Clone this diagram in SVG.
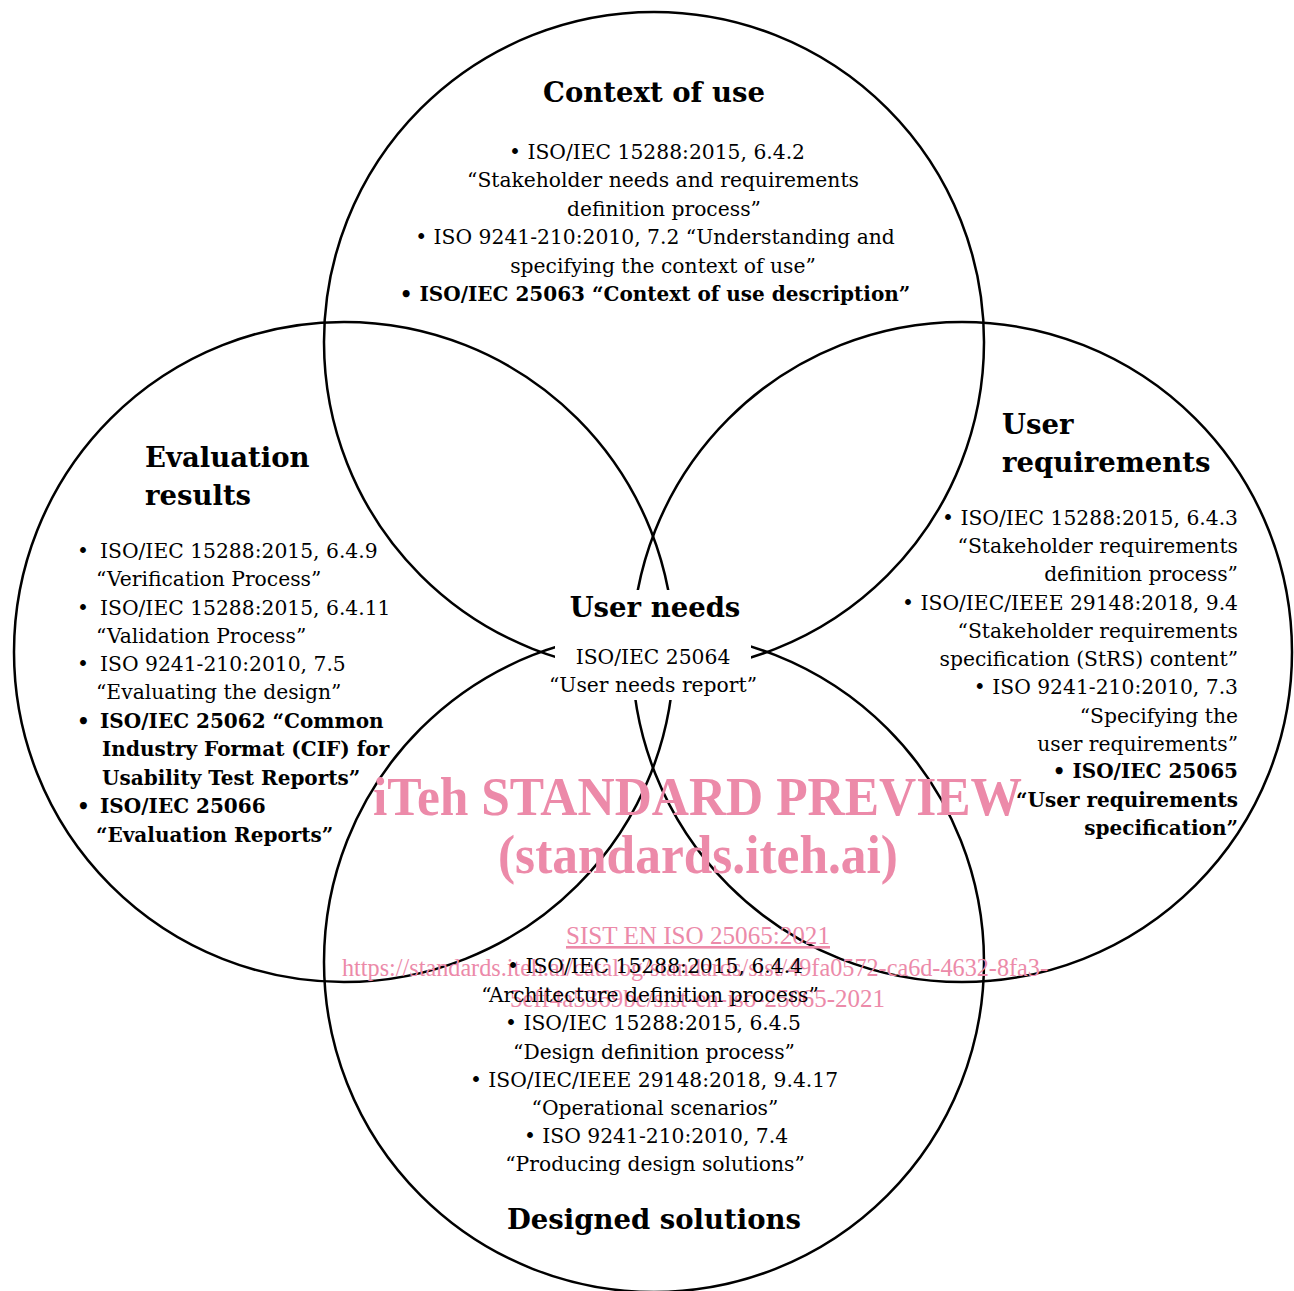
<svg xmlns="http://www.w3.org/2000/svg" width="1294" height="1291" viewBox="0 0 1294 1291">
<style>
.c{fill:none;stroke:#000;stroke-width:2.5}
.h{font-family:"DejaVu Serif","Liberation Serif",serif;font-weight:bold;font-size:27.5px;fill:#000}
.t{font-family:"DejaVu Serif","Liberation Serif",serif;font-size:20.3px;fill:#000}
.b{font-family:"DejaVu Serif","Liberation Serif",serif;font-size:20px;font-weight:bold;fill:#000}
.m{text-anchor:middle}
.e{text-anchor:end}
.w{font-family:"Liberation Serif","Times New Roman",serif;fill:#ec8aa9}
</style>
<rect width="1294" height="1291" fill="#fff"/>
<g id="connectors">
<circle class="c" cx="654" cy="342" r="330"/>
<circle class="c" cx="344" cy="652" r="330"/>
<circle class="c" cx="962" cy="652" r="330"/>
<circle class="c" cx="654" cy="962" r="330"/>
</g>
<g id="watermark">
<text class="w" x="373" y="815" font-size="54" font-weight="bold" textLength="649" lengthAdjust="spacingAndGlyphs">iTeh STANDARD PREVIEW</text>
<text class="w" x="498" y="873" font-size="54" font-weight="bold" textLength="400" lengthAdjust="spacingAndGlyphs">(standards.iteh.ai)</text>
<text class="w" x="566" y="944" font-size="26" text-decoration="underline" textLength="264" lengthAdjust="spacingAndGlyphs">SIST EN ISO 25065:2021</text>
<text class="w" x="342" y="976" font-size="26" textLength="706" lengthAdjust="spacingAndGlyphs">https://standards.iteh.ai/catalog/standards/sist/49fa0572-ca6d-4632-8fa3-</text>
<text class="w" x="510" y="1007" font-size="26" textLength="375" lengthAdjust="spacingAndGlyphs">5eff4a5369bc/sist-en-iso-25065-2021</text>
</g>
<g id="context-of-use">
<text class="h m" x="654" y="102">Context of use</text>
<text class="t m" x="657" y="159">• ISO/IEC 15288:2015, 6.4.2</text>
<text class="t m" x="663" y="187">“Stakeholder needs and requirements</text>
<text class="t m" x="664" y="216">definition process”</text>
<text class="t m" x="655" y="244">• ISO 9241-210:2010, 7.2 “Understanding and</text>
<text class="t m" x="663" y="273">specifying the context of use”</text>
<text class="b m" x="655" y="301">• ISO/IEC 25063 “Context of use description”</text>
</g>
<g id="evaluation-results">
<text class="h" x="145" y="467">Evaluation</text>
<text class="h" x="145" y="505">results</text>
<text class="t" x="77" y="558">•</text>
<text class="t" x="100" y="558">ISO/IEC 15288:2015, 6.4.9</text>
<text class="t" x="96" y="586">“Verification Process”</text>
<text class="t" x="77" y="615">•</text>
<text class="t" x="100" y="615">ISO/IEC 15288:2015, 6.4.11</text>
<text class="t" x="96" y="643">“Validation Process”</text>
<text class="t" x="77" y="671">•</text>
<text class="t" x="100" y="671">ISO 9241-210:2010, 7.5</text>
<text class="t" x="96" y="699">“Evaluating the design”</text>
<text class="b" x="77" y="728">•</text>
<text class="b" x="100" y="728">ISO/IEC 25062 “Common</text>
<text class="b" x="102" y="756">Industry Format (CIF) for</text>
<text class="b" x="102" y="785">Usability Test Reports”</text>
<text class="b" x="77" y="813">•</text>
<text class="b" x="100" y="813">ISO/IEC 25066</text>
<text class="b" x="96" y="842">“Evaluation Reports”</text>
</g>
<g id="user-requirements">
<text class="h" x="1002" y="434">User</text>
<text class="h" x="1002" y="472">requirements</text>
<text class="t e" x="1238" y="525">• ISO/IEC 15288:2015, 6.4.3</text>
<text class="t e" x="1238" y="553">“Stakeholder requirements</text>
<text class="t e" x="1238" y="581">definition process”</text>
<text class="t e" x="1238" y="610">• ISO/IEC/IEEE 29148:2018, 9.4</text>
<text class="t e" x="1238" y="638">“Stakeholder requirements</text>
<text class="t e" x="1238" y="666">specification (StRS) content”</text>
<text class="t e" x="1238" y="694">• ISO 9241-210:2010, 7.3</text>
<text class="t e" x="1238" y="723">“Specifying the</text>
<text class="t e" x="1238" y="751">user requirements”</text>
<text class="b e" x="1238" y="778">• ISO/IEC 25065</text>
<text class="b e" x="1238" y="807">“User requirements</text>
<text class="b e" x="1238" y="835">specification”</text>
</g>
<g id="user-needs">
<rect x="555" y="590" width="196" height="110" fill="#fff"/>
<text class="h m" x="655" y="617">User needs</text>
<text class="t m" x="653" y="664">ISO/IEC 25064</text>
<text class="t m" x="653" y="692">“User needs report”</text>
</g>
<g id="designed-solutions">
<text class="t m" x="655" y="973">• ISO/IEC 15288:2015, 6.4.4</text>
<text class="t m" x="650" y="1002">“Architecture definition process”</text>
<text class="t m" x="653" y="1030">• ISO/IEC 15288:2015, 6.4.5</text>
<text class="t m" x="654" y="1059">“Design definition process”</text>
<text class="t m" x="654" y="1087">• ISO/IEC/IEEE 29148:2018, 9.4.17</text>
<text class="t m" x="655" y="1115">“Operational scenarios”</text>
<text class="t m" x="656" y="1143">• ISO 9241-210:2010, 7.4</text>
<text class="t m" x="655" y="1171">“Producing design solutions”</text>
<text class="h m" x="654" y="1229">Designed solutions</text>
</g>
</svg>
